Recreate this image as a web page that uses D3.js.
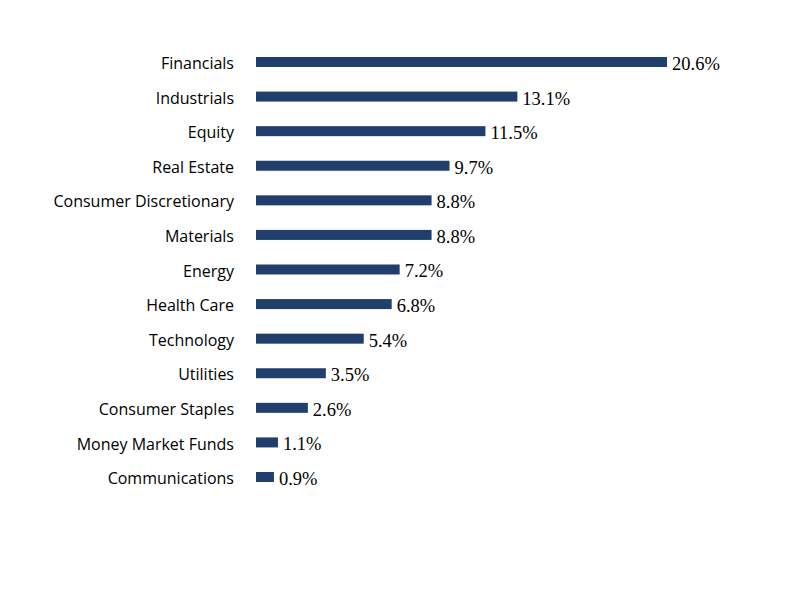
<!DOCTYPE html>
<html><head><meta charset="utf-8">
<script src="https://cdn.jsdelivr.net/npm/d3@7"></script>
<style>html,body{margin:0;padding:0;background:#fff;}</style>
</head><body>
<script>
const categories = ["Financials","Industrials","Equity","Real Estate","Consumer Discretionary","Materials","Energy","Health Care","Technology","Utilities","Consumer Staples","Money Market Funds","Communications"];
const values = [20.6,13.1,11.5,9.7,8.8,8.8,7.2,6.8,5.4,3.5,2.6,1.1,0.9];
const valueLabels = ["20.6%","13.1%","11.5%","9.7%","8.8%","8.8%","7.2%","6.8%","5.4%","3.5%","2.6%","1.1%","0.9%"];

const W = 792, H = 612;
const svg = d3.select("body").append("svg").attr("width", W).attr("height", H);
const x = d3.scaleLinear().domain([0, 20.6]).range([256, 667]);
const y = d3.scalePoint().domain(categories).range([62, 477]);
const barH = 10;

const g = svg.append("g");
g.selectAll("rect").data(categories).join("rect")
  .attr("x", x(0))
  .attr("y", d => y(d) - barH/2)
  .attr("width", (d,i) => x(values[i]) - x(0))
  .attr("height", barH)
  .attr("fill", "#203f6d");

g.selectAll("text.cat").data(categories).join("text")
  .attr("class","cat")
  .attr("x", 234)
  .attr("y", d => y(d) + 1.5)
  .attr("dy", "0.35em")
  .attr("text-anchor","end")
  .attr("font-family","'Open Sans', sans-serif")
  .attr("font-size", 16)
  .attr("fill","#000")
  .text(d => d);

g.selectAll("text.val").data(categories).join("text")
  .attr("class","val")
  .attr("x", (d,i) => x(values[i]) + 5)
  .attr("y", d => y(d) + 1.5)
  .attr("dy", "0.35em")
  .attr("font-family","'Liberation Serif', 'Times New Roman', serif")
  .attr("font-size", 18.5)
  .attr("fill","#000")
  .text((d,i) => valueLabels[i]);
</script>
</body></html>
